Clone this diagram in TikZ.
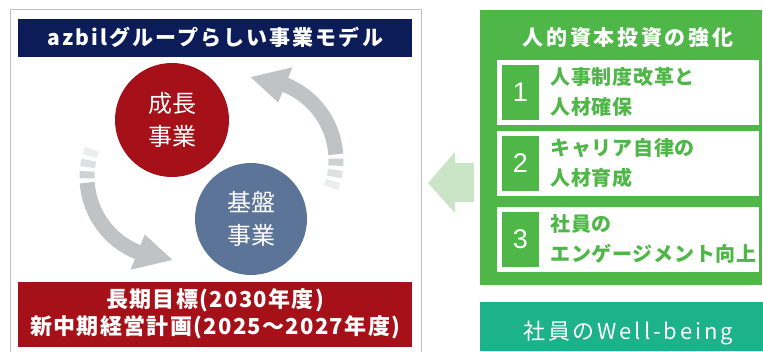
\documentclass[tikz,border=0pt]{standalone}
\usepackage{fontspec}
\newfontfamily\jp{Noto Sans CJK JP}
\newfontfamily\jpa{Noto Sans CJK JP}[LetterSpace=10]
\newfontfamily\jpb{Noto Sans CJK JP}[LetterSpace=6]
\newfontfamily\jpd{Noto Sans CJK JP}[LetterSpace=3.5]
\newfontfamily\jpc{Noto Sans CJK JP}[LetterSpace=13]
\newfontfamily\cifre{Liberation Sans}
\usetikzlibrary{calc}

\definecolor{blunotte}{RGB}{12,28,88}
\definecolor{rosso}{RGB}{166,16,24}
\definecolor{bluacciaio}{RGB}{91,116,152}
\definecolor{grigio}{RGB}{192,194,196}
\definecolor{bordo}{RGB}{190,190,190}
\definecolor{verde}{RGB}{78,183,72}
\definecolor{verdechiaro}{RGB}{202,229,197}
\definecolor{turchese}{RGB}{28,178,138}

\tikzset{
  barra/.style={fill=#1, inner sep=0pt, anchor=south west},
  cerchio/.style={circle, fill=#1, inner sep=0pt, minimum size=114pt, text=white,
    align=center, font=\jp\fontsize{24}{33}\selectfont},
  bianco/.style={text=white, font=\jpa\bfseries\fontsize{21}{27}\selectfont, align=center},
  voce/.style={text=verde, font=\jpd\bfseries\fontsize{20}{30}\selectfont, align=left, anchor=west},
  numero/.style={fill=verde, text=white, inner sep=0pt, minimum width=37pt,
    minimum height=55pt, font=\cifre\fontsize{27}{27}\selectfont}
}

\begin{document}
\begin{tikzpicture}[x=1pt,y=1pt]
        \useasboundingbox (0,0) rectangle (763,351);

        %%%%%%%%% Modello di business %%%%%%%%%
        \draw[bordo, line width=1pt] (10,-5) rectangle (421,341);
        \node[barra=blunotte, minimum width=394pt, minimum height=38pt] (testata) at (18,294) {};
        \node[bianco] (titolo) at (testata.center) {azbilグループらしい事業モデル};
        \node[barra=rosso, minimum width=394pt, minimum height=65pt] (obiettivi) at (18,4) {};
        \node[bianco, font=\jpb\bfseries\fontsize{22}{27}\selectfont] (piano) at (obiettivi.center)
          {長期目標(2030年度)\\新中期経営計画(2025～2027年度)};

        %%%%%%%%% Frecce circolari %%%%%%%%%
        \foreach \cx/\cy/\a in {255/191/0, 168/174/180} {
          \coordinate (centro) at (\cx,\cy);
          \draw[grigio, line width=15pt] ($(centro)+({\a+4}:81)$)
            arc[start angle=\a+4, end angle=\a+68.5, radius=81];
          \fill[grigio] ($(centro)+({\a+68}:62)$) -- ($(centro)+({\a+93}:83)$)
            -- ($(centro)+({\a+68}:100)$) -- cycle;
          \draw[grigio!75, line width=15pt] ($(centro)+({\a-4}:81)$)
            arc[start angle=\a-4, end angle=\a+1, radius=81];
          \draw[grigio!50, line width=15pt] ($(centro)+({\a-12}:81)$)
            arc[start angle=\a-12, end angle=\a-7, radius=81];
          \draw[grigio!30, line width=15pt] ($(centro)+({\a-20}:81)$)
            arc[start angle=\a-20, end angle=\a-15, radius=81];
        }

        %%%%%%%%% Cerchi %%%%%%%%%
        \node[cerchio=rosso] (crescita) at (172,231) {成長\\事業};
        \node[cerchio=bluacciaio, minimum size=112pt] (base) at (251,132) {基盤\\事業};

        %%%%%%%%% Freccia verde %%%%%%%%%
        \fill[verdechiaro] (474,149) -- (455,149) -- (455,138) -- (428,168)
          -- (455,199) -- (455,188) -- (474,188) -- cycle;

        %%%%%%%%% Capitale umano %%%%%%%%%
        \node[barra=verde, minimum width=282pt, minimum height=275pt] (capitale) at (480,66) {};
        \node[bianco, font=\jpc\bfseries\fontsize{21}{27}\selectfont] (capitaletitolo) at (628,313) {人的資本投資の強化};
        \foreach \n/\yb/\righe in {1/226/{人事制度改革と\\人材確保},
                                   2/155/{キャリア自律の\\人材育成},
                                   3/79/{社員の\\エンゲージメント向上}} {
          \node[barra=white, minimum width=262pt, minimum height=65pt] (riquadro\n) at (497,\yb) {};
          \node[numero] (num\n) at ($(riquadro\n.west)+(23.5,0)$) {\n};
          \node[voce] (testo\n) at ($(riquadro\n.west)+(50,0)$) {\righe};
        }

        %%%%%%%%% Well-being %%%%%%%%%
        \node[barra=turchese, minimum width=283pt, minimum height=49pt] (benessere) at (480,0) {};
        \node[bianco, font=\jpc\fontsize{22}{24}\selectfont] (benesseretesto) at (628,18) {社員のWell-being};
\end{tikzpicture}
\end{document}
